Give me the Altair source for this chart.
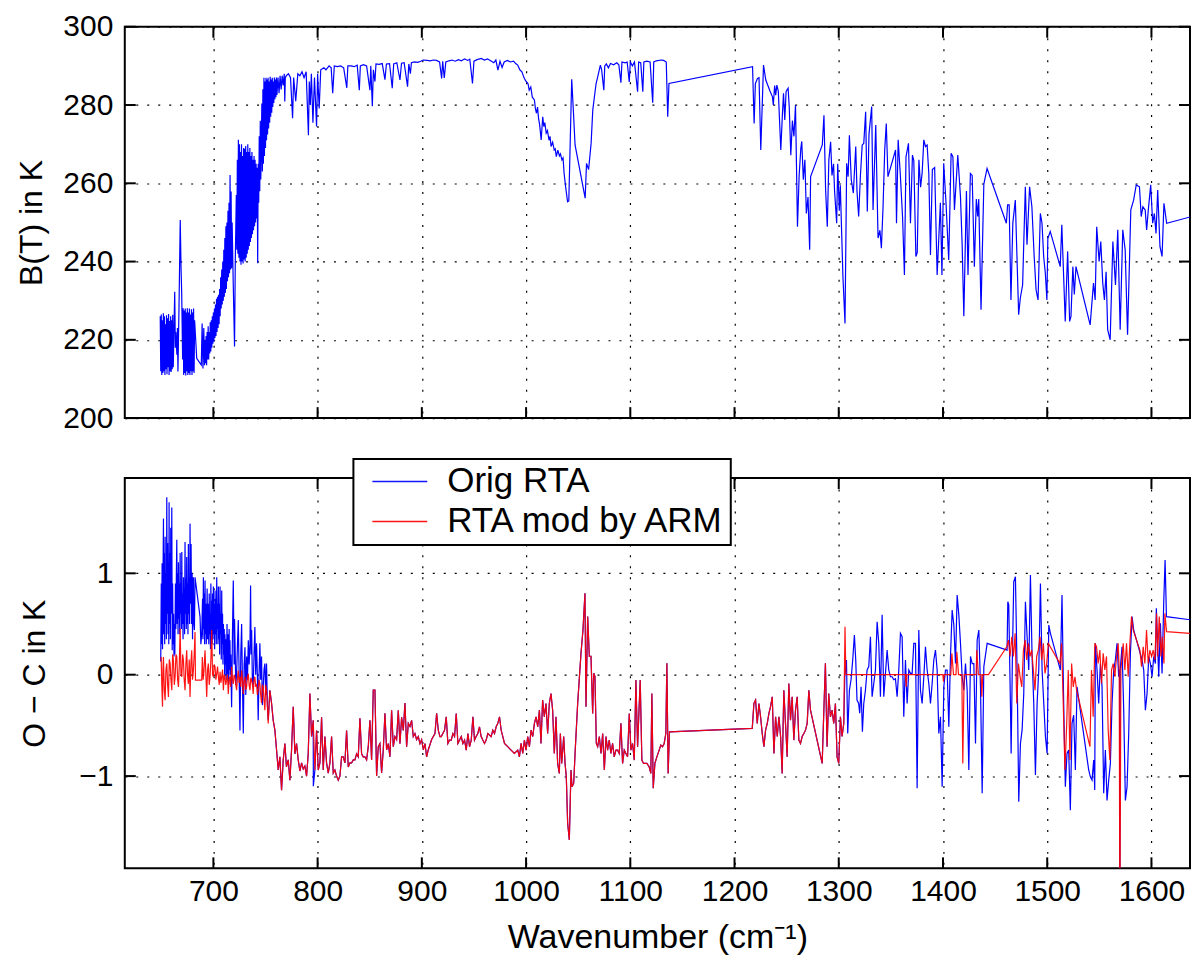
import altair as alt
import pandas as pd

FONT = "Liberation Sans"
W = 1067
H1 = 392
H2 = 391
XDOM = [615, 1637]
TICK_LEN = 11

x_ticks = [700, 800, 900, 1000, 1100, 1200, 1300, 1400, 1500, 1600]
top_y_ticks = [200, 220, 240, 260, 280, 300]
bot_y_ticks = [-1, 0, 1]
series_names = ["Orig RTA", "RTA mod by ARM"]
series_colors = ["#0000ff", "#ff0000"]

# ---- top panel: brightness temperature (wavenumber, K) ----
top_a = [
(649.0,226.0),(649.5,212.0),(650.0,226.5),(650.5,211.0),(651.0,225.0),(651.5,211.5),(652.0,226.8),(652.5,212.0),(653.0,226.0),(653.5,211.0),(654.0,224.0),(654.5,212.5),(655.0,226.3),(655.5,211.2),(656.0,225.5),(656.5,213.0),(657.0,226.6),(657.5,211.0),(658.0,224.8),(658.5,212.0),(659.0,226.0),(659.5,211.8),(660.0,225.0),(660.5,212.5),(661.0,226.4),(661.5,213.0),
(662.9,232.3),(663.5,218.0),(664.0,222.0),(665.0,216.2),(665.5,223.0),(666.0,211.9),(667.0,228.0),(668.2,250.6),(669.0,238.0),(669.6,231.9),(670.5,215.0),
(671.0,228.1),(671.5,211.0),(672.0,227.5),(672.5,211.5),(673.0,228.0),(673.5,210.9),(674.0,227.0),(674.5,212.0),(675.0,228.1),(675.5,211.0),(676.0,227.0),(676.5,211.5),(677.0,228.0),(677.5,211.0),(678.0,226.5),(678.5,212.0),(679.0,227.8),(679.5,211.0),(680.0,227.0),(680.5,212.0),(681.0,228.0),(681.5,211.5),(682.0,225.0),
(684.0,215.3),(686.0,214.5),(688.4,213.6),(689.2,224.2),(690.0,212.7),(690.8,223.0),(691.5,213.5),(692.0,220.0),(692.5,214.0),(693.0,221.0),(693.5,213.5),(694.0,222.0),(694.5,215.0),(695.0,223.5),(695.5,215.0),(696.0,222.0),(696.5,216.5),(697.0,224.5),(697.5,217.0),(698.0,225.0),(698.5,218.0),(699.0,226.0),(699.5,219.0),(700.0,227.0),(700.5,219.5),(701.0,228.0),(701.5,220.5),(702.0,229.0),(702.5,221.0),(703.0,230.5),(703.5,222.0),(704.0,231.0),(704.5,223.0),(705.0,231.5),(705.5,224.0),(706.0,233.0),(706.5,226.0),(707.0,236.0),(707.5,228.0),(708.0,238.0),(708.5,229.0),(709.0,240.0),(709.5,230.0),(710.0,243.0),(710.5,231.0),(711.0,246.0),(711.5,232.0),(712.0,249.0),(712.5,233.0),(713.0,250.0),(713.5,235.0),(714.0,253.0),(714.5,236.0),(715.0,255.0),(715.5,237.0),(716.0,262.1),(716.5,238.0),(717.0,257.9),(717.5,238.3),(718.0,250.0),(719.0,235.0),(720.3,218.3),(721.0,240.0),(722.0,257.0),(722.5,243.0),(723.0,266.0),(723.5,242.0),(724.0,271.1),(724.5,241.0),(725.0,270.0),(725.5,240.0),(726.0,268.0),(726.5,239.2),(727.0,270.0),(727.5,240.0),(728.0,267.0),(728.5,239.5),(729.0,269.0),(729.5,240.5),(730.0,268.8),(730.5,240.0),(731.0,269.5),(731.5,241.0),(732.0,268.0),(732.5,242.0),(733.0,270.0),(733.5,243.0),(734.0,268.0),(734.5,244.0),(735.0,269.0),(735.5,245.0),(736.0,267.0),(736.5,246.0),(737.0,268.0),(737.5,247.0),(738.0,266.0),(738.5,248.0),(739.0,267.0),(739.5,249.0),(740.0,266.0),(740.5,250.0),(741.0,265.0),(741.5,251.0),(742.0,264.0),(742.5,239.6),(743.0,265.0),(743.5,255.0),(744.0,272.0),(744.5,258.0),(745.0,276.0),(745.5,261.0),(746.5,280.4),(747.0,263.0),(747.5,284.0),(748.0,265.0),(748.5,287.0),(749.0,267.0),(749.5,286.0),(750.0,269.0),(750.5,287.0),(751.0,271.0),(751.5,286.5),(752.0,272.5),(752.5,287.0),(753.0,274.0),(753.5,286.0),(754.0,275.5),(754.5,287.2),(755.0,277.0),(755.5,286.5),(756.0,278.0),(756.5,287.0),(757.0,279.5),(757.5,286.0),(758.0,280.5),(758.5,287.0),(759.0,281.5),(759.5,286.5),(760.0,282.0),(760.5,287.0),(761.0,282.6),(762.0,287.0),(763.0,283.0),(764.0,287.5),(765.0,284.0),(766.0,287.5),(767.0,285.0),(768.0,288.0),(768.5,280.9),(769.0,287.0),
]
top_b = [
(770,287.5),(772,288),(774,287),(776,276.6),(777,287),(779,281),(781,288),(783,287.5),(785,288.5),(787,287),(789,288.5),(791.2,272.3),(792,286),(793,280),(794,288),(795.5,275.5),(797,287),(799,274.5),(800,288),(801.5,279.1),(803,289),(806,289.5),(808,289),(811,290),(813,289.5),(814.5,283),(816,290),(819,289.8),(822,290),(825,289.5),(828,284.4),(829,290),(832,290),(835,289.8),(838,290.2),(840,283.8),(841,290),(844,290.3),(847,290),(850.2,283.8),(851,290),(852.5,279.7),(853.5,289),(855,286),(856,290.5),(859,290.4),(862,290.6),(864.6,286.5),(866,290.5),(869,290.6),(871.6,284.3),(873,290.5),(876,290.8),(879,286.4),(880.5,290.7),(883,290.8),(886.3,284.7),(887.5,290.5),(889,288),(890,290.8),(893,291),(896,290.9),(899,291.2),(901.3,291.5),(905,291.4),(908,291.3),(911,291.5),(914,291.4),(917,291),(919,286.8),(920,291.2),(921.5,286.9),(923,291),(926,291.3),(929,291.5),(932,291.2),(935,291.6),(938,291.3),(941,291.8),(944,291.4),(946,291.7),(948.6,285.5),(950,291.2),(953,291.6),(957,291.9),(960,291.5),(963,291.8),(966,291.3),(969,290.8),(971,291.5),(973,288.9),(975,291.2),(977,289.6),(979,291),(982,291.4),(985,291),(988,291.2),(990,290.6),(992,290.2),(994,289),(996,288.5),(998,287),(999.5,286.2),(1001.8,285.5),(1003,283.8),(1004.5,284.6),(1006,282),(1008,281.3),(1009,279),(1010,277.9),(1011,279.5),(1012,276.5),(1013,275),(1014.5,271.1),(1016,277),(1017,274.5),(1018,275.5),(1019.3,272.8),(1020.5,273.5),(1022,271),(1023,272),(1024,269.4),(1025.5,270.5),(1027,268.5),(1028,268.8),(1029,266.8),(1030.5,268.5),(1032,267),(1033,267.5),(1034.4,266),(1035.5,266.5),(1036.5,262.5),(1038,259),(1039.8,255.3),(1041,255.5),(1043.8,286.6),(1045.5,277.9),(1047,269.8),(1056.7,256.2),(1058,265.1),(1060,263.5),(1062.4,270.2),(1064,278.7),(1066,283),(1067.2,285.5),(1069,287.5),(1071.3,290.2),(1072.5,289),(1074.6,283.8),(1075.5,290),(1077,290.5),(1079,289.5),(1081,290.6),(1084,290.3),(1087,290.8),(1089,290.3),(1091,285.7),(1092,291),(1095,290.8),(1097,291),(1099,285.9),(1100,291),(1102,290),(1104,291),(1107,283.4),(1108,291),(1110,290.8),(1112,283.4),(1113,291),(1116,291.2),(1119,291),(1121.5,280.6),(1122.5,291),(1125,291.3),(1129.5,291.5),(1132,291.4),(1134.5,291),(1135.9,277),(1137.1,285.5),
]
top_c = [
(1217.3,289.8),(1218.8,275.3),(1220,285.5),(1222,286.8),(1223.5,287),(1225.2,268.5),(1227.8,290.2),(1230,286.4),(1232,285),(1234,283.6),(1236.4,282.1),(1237.2,280),(1238.5,285),(1239.5,282.5),(1240.6,285.1),(1242,283.5),(1244.4,268.5),(1246,278),(1247,283),(1248.2,276.2),(1249.5,283.5),(1251.4,284.3),(1252.5,279.5),(1254,267.2),(1255.5,276),(1257,272),(1258.5,280),(1260.4,248.9),(1262,262),(1263.6,268.9),(1264.5,270.7),(1266,260.9),(1267.5,266),(1268.9,252.3),(1270.5,256.5),(1272.1,243),(1273,261.7),(1284.2,269.8),(1285.8,277.4),(1287.4,258.3),(1289,248.9),(1290.5,266),(1292.2,270.6),(1293.5,262),(1295,265),(1296,258),(1298,249.8),(1299,265),(1300.5,253),(1301.5,259.5),(1302.8,247.2),(1304,236.2),(1306,224.2),(1307.6,265.1),(1309,261.7),(1310.2,272.3),(1312,260.9),(1314,257.5),(1316.3,269.4),(1317.5,258),(1319.1,251.5),(1320.8,262),(1322.5,269.8),(1324,270.2),(1325.8,278.3),(1327.4,252.8),(1329,272.5),(1331.6,279.6),(1332.9,253.2),(1335.5,274.9),(1337.7,246),(1339.5,248),(1340.9,243.4),(1342.5,254),(1344.1,268.5),(1345.6,275.3),(1347.2,261.7),(1354.5,268.5),(1355.4,249.8),(1357,271.1),(1359,262.5),(1361.2,251.5),(1363,236.6),(1364.5,266.7),(1366.9,270.2),(1368.8,249.8),(1370.7,267.2),(1372,265.8),(1374,241.3),(1375.3,242.3),(1376.9,266),(1378.5,259),(1380,262.6),(1381.6,271.1),(1383.2,269.4),(1384.8,269.8),(1386.4,262.5),(1388,241.7),(1389.8,263.5),(1392,264),(1394.4,236.6),(1397.5,255),(1399,236.6),(1400.7,265.1),(1403,254.5),(1405.5,240.4),(1407.8,267.7),(1409.5,266.8),(1411,253.2),(1414.2,267.2),(1416.8,256.5),(1418.4,244.3),(1420,226),(1422.5,258),(1424,236.6),(1426.3,262.5),(1428,262),(1430.1,238.7),(1432,256),(1433.3,251.5),(1434.3,256),(1436.5,227.7),(1439.2,259.8),(1442.3,263.8),(1460.8,249.8),(1462,254.5),(1463.5,254.5),(1465.2,230.2),(1467,249.8),(1469.4,255.7),(1472.6,226.4),(1474.2,230.7),(1476.4,234),(1479,259.1),(1480.6,244.3),(1483.1,259.1),(1485.3,254),(1487.5,241.3),(1489.3,232.8),(1491.2,230.2),(1493.4,252.3),(1495,249.8),(1496.6,241.3),(1498.2,237),(1499.7,230.2),(1500.6,245.9),(1502.9,247.7),(1512.5,238.7),(1514,249.4),(1517.3,224.7),(1519.6,242.6),(1521.5,224.7),(1522.8,226),(1524.6,238.7),(1526,231.6),(1527.6,238.7),(1541.2,223.8),(1544.4,234.5),(1546,230.2),(1547.5,248.9),(1549.8,240),(1551.4,245.1),(1553.3,234.5),(1554.9,230.2),(1556.5,237.4),(1558,222.6),(1560.4,220),(1563,245.1),(1565.5,234),(1567.7,248.1),(1570,222.6),(1572.5,248.1),(1574.8,243),(1577.1,221.3),(1580.2,253.2),(1582.9,255.7),(1585.4,259.6),(1588.5,259.1),(1590.2,251.5),(1591.8,254),(1594,253.2),(1595.4,248.1),(1597,253.2),(1599.3,259.6),(1601.2,249.8),(1602.8,252.3),(1604.4,247.2),(1606,258.3),(1608.2,243.8),(1610.2,241.3),(1612,254.9),(1614.6,249.8),(1640,251.6),
]

# ---- bottom panel: observed minus calculated (wavenumber, K) ----
blue_a = [
(649.5,0.13),(650.0,0.9),(650.4,0.3),(650.8,1.1),(651.2,0.25),(651.6,0.85),(652.1,1.54),(652.5,0.4),(652.9,1.2),(653.3,0.3),(653.7,1.36),(654.1,0.5),(654.5,1.0),(654.9,0.35),(655.3,1.75),(655.7,0.6),(656.1,1.3),(656.5,0.4),(656.9,1.1),(657.2,0.3),(657.5,1.7),(657.9,0.5),(658.3,1.2),(658.7,0.35),(659.1,1.45),(659.5,0.6),(659.8,1.0),(660.1,1.65),(660.5,0.24),(660.9,0.9),(661.3,0.3),(661.8,0.6),(662.2,0.18),(662.6,0.5),(663.0,0.2),
(663.6,0.9),(664.0,0.45),(664.5,1.0),(664.9,1.33),(665.3,0.5),(665.7,1.0),(666.1,0.4),(666.5,1.11),(666.9,0.55),(667.3,0.9),(667.7,0.4),(668.1,1.2),(668.5,0.6),(668.9,0.9),(669.3,0.45),(669.7,1.21),(670.1,0.5),(670.5,0.8),(670.9,0.35),(671.3,0.96),(671.7,0.5),(672.1,0.85),(672.4,0.4),(672.8,1.31),(673.2,0.6),(673.6,0.95),(674.0,0.45),(674.4,1.16),(674.8,0.5),(675.2,0.9),(675.6,0.4),(676.0,1.29),(676.4,0.6),(676.8,0.95),(677.2,0.5),(677.6,1.49),(678.1,0.7),(678.6,1.29),(679.1,0.5),(679.6,1.0),(680.0,0.35),(680.4,0.8),(680.8,0.96),(681.3,0.5),(681.8,0.44),(682.4,0.96),(687.2,0.57),
(688.0,0.3),(688.8,0.4),(689.6,0.75),(690.0,0.35),(690.4,0.96),(690.8,0.45),(691.2,0.8),(691.6,0.3),(692.0,0.93),(692.4,0.4),(692.8,0.7),(693.2,0.3),(693.6,0.5),(694.0,0.85),(694.4,0.35),(694.8,0.6),(695.2,0.7),(695.6,0.3),(696.0,0.8),(696.4,0.4),(696.8,0.6),(697.2,0.25),(697.6,0.9),(698.0,0.4),(698.4,0.73),(698.8,0.3),(699.2,0.8),(699.6,0.35),(700.0,0.87),(700.4,0.4),(700.8,0.7),(701.2,0.25),(701.6,0.83),(702.0,0.4),(702.4,0.75),(702.8,0.3),(703.2,0.96),(703.6,0.45),(704.0,0.7),(704.4,0.3),(704.8,0.87),(705.2,0.35),(705.6,0.7),(706.0,0.2),(706.4,0.87),(706.8,0.4),(707.2,0.6),(707.6,0.15),(708.0,0.83),(708.4,0.3),(708.8,0.6),(709.2,0.1),(709.6,0.5),(710.0,0.2),(710.4,0.45),(710.8,0.0),(711.1,0.4),(711.5,0.1),(711.9,0.35),(712.3,-0.05),(712.7,0.21),(713.1,0.5),(713.5,0.0),(713.9,0.3),(714.3,0.4),(714.7,-0.1),(715.1,0.45),(715.5,0.05),(715.9,0.34),(716.3,0.0),(716.7,0.2),(717.1,-0.1),(717.5,-0.32),(718.3,0.4),(719.1,0.93),(719.9,0.1),(720.3,0.55),(720.7,0.34),(721.5,-0.1),(722.3,0.01),(723.1,0.3),(723.9,0.54),(724.7,0.0),(725.5,-0.55),(726.3,0.2),(727.1,0.5),(727.9,-0.1),(728.7,-0.58),(729.5,0.1),(730.3,0.27),(731.1,-0.2),(731.9,0.18),(732.7,-0.05),(733.5,0.34),(734.3,0.1),(735.1,0.3),(735.7,0.88),(736.2,0.2),(736.7,0.44),(737.4,-0.05),(738.2,-0.12),(739.0,0.2),(739.8,0.47),(740.6,0.0),(741.4,0.31),(742.2,0.0),(743.0,-0.45),(743.8,0.0),(744.6,0.31),(745.4,-0.05),(746.2,0.18),(747.0,-0.3),(747.8,-0.12),(748.6,0.05),(749.4,0.11),(750.2,-0.2),(751.0,0.11),(751.8,-0.3),(752.6,-0.45),
]
red_a = [
(649.9,0.175),(650.5,-0.1),(651.2,-0.317),(651.6,0.05),(652.1,0.175),(652.9,-0.15),(653.7,-0.252),(654.5,0.05),(655.3,0.11),(656.1,-0.1),(656.9,-0.22),(657.7,0.15),(658.5,0.11),(659.3,-0.05),(660.1,-0.153),(660.9,0.2),(661.7,0.14),(662.5,-0.1),(663.3,-0.02),(664.1,0.2),(664.9,0.175),(665.7,-0.05),(666.5,-0.12),(667.3,0.1),(668.1,0.455),(668.9,0.0),(669.7,-0.02),(670.5,0.2),(671.3,0.14),(672.0,-0.05),(672.8,-0.153),(673.6,0.1),(674.4,0.24),(675.2,0.0),(676.0,-0.09),(676.8,0.15),(677.6,-0.22),(678.4,0.1),(679.2,0.24),(680.0,-0.05),(680.8,0.04),(681.6,0.2),(682.4,0.42),(682.8,-0.054),(688.8,-0.054),(689.4,0.175),(690.2,-0.05),(691.0,0.04),(691.5,0.15),(692.0,0.24),(692.8,0.0),(693.6,-0.22),(694.4,0.05),(695.2,0.11),(696.0,-0.1),(696.8,-0.02),(697.6,0.15),(698.4,0.44),(699.2,0.0),(700.0,-0.02),(700.8,0.1),(701.6,0.077),(702.4,-0.05),(703.2,0.01),(704.0,0.08),(704.8,-0.02),(705.6,-0.1),(706.4,0.028),(707.2,-0.08),(708.0,-0.02),(708.8,0.05),(709.6,-0.153),(710.4,0.0),(711.1,-0.02),(711.9,-0.1),(712.7,-0.054),(713.5,0.0),(714.3,-0.19),(715.1,-0.05),(715.9,-0.02),(716.7,-0.12),(717.5,0.077),(718.3,-0.05),(719.1,-0.09),(719.9,0.0),(720.7,-0.02),(721.5,-0.1),(722.3,-0.153),(723.1,-0.03),(723.9,0.04),(724.7,-0.08),(725.5,-0.02),(726.3,-0.12),(727.1,0.04),(727.9,-0.05),(728.7,-0.19),(729.5,-0.06),(730.3,-0.02),(731.1,-0.15),(731.9,-0.12),(732.7,-0.02),(733.5,0.01),(734.3,-0.1),(735.1,-0.153),(735.9,-0.03),(736.7,-0.054),(737.5,-0.1),(738.2,-0.19),(739.0,-0.05),(739.8,-0.02),(740.6,-0.12),(741.4,-0.09),(742.2,-0.2),(743.0,-0.153),(743.8,-0.05),(744.6,-0.09),(745.4,-0.2),(746.2,-0.28),(747.0,-0.1),(747.8,-0.12),(748.6,-0.25),(749.4,-0.35),(750.2,-0.1),(751.0,-0.153),(751.8,-0.3),(752.6,-0.48),
]
shared_mid = [
(754.2,-0.153),(755.8,-0.28),(757.4,-0.45),(759.0,-0.547),(760.6,-0.74),(762.2,-0.94),(763.8,-0.81),(765.4,-1.14),(767.0,-0.84),(768.6,-0.68),(770.1,-0.91),(771.8,-0.84),(773.4,-1.04),(775.0,-0.74),(776.6,-0.317),(778.2,-0.78),(779.8,-0.68),(781.4,-0.84),(783.0,-0.95),(784.6,-0.87),(786.2,-0.93),(787.8,-0.9),(789.4,-1.0),(791.0,-0.78),(792.6,-0.186),(794.2,-0.61),(795.8,-0.45),(797.4,-0.94),(799.0,-0.55),(800.6,-0.94),(802.2,-0.87),(803.8,-0.42),(805.4,-0.94),(807.0,-0.61),(808.6,-0.87),(810.2,-0.97),(811.8,-0.87),(813.4,-0.61),(815.0,-0.97),(816.6,-0.94),(818.2,-1.0),(819.8,-1.04),(821.4,-1.0),(823.0,-0.81),(824.6,-0.81),(826.2,-0.87),(827.8,-0.55),(829.4,-0.91),(831.0,-0.87),(832.6,-0.87),(834.2,-0.84),(835.8,-0.84),(837.4,-0.78),(839.0,-0.81),(840.6,-0.43),(842.2,-0.78),(843.8,-0.81),(845.4,-0.81),(847.0,-0.84),(848.6,-0.71),(850.2,-0.45),(851.8,-0.84),(853.4,-0.153),(855.0,-0.153),(856.6,-1.0),(858.2,-0.71),(859.8,-0.68),(861.4,-0.97),(863.0,-0.74),(864.6,-0.38),(866.2,-0.74),(867.8,-0.68),(869.4,-0.81),(871.0,-0.35),(872.6,-0.71),(874.2,-0.61),(875.8,-0.64),(877.4,-0.35),(879.0,-0.68),(880.6,-0.42),(882.2,-0.55),(883.8,-0.28),(885.4,-0.71),(887.0,-0.48),(888.6,-0.51),(890.2,-0.45),(891.8,-0.61),(893.4,-0.58),(895.0,-0.64),(896.6,-0.61),(898.2,-0.68),(899.8,-0.64),(901.4,-0.74),(903.0,-0.68),(904.6,-0.81),(906.2,-0.74),(909.4,-0.64),(912.6,-0.58),(914.2,-0.38),(915.8,-0.55),(917.4,-0.61),
(918.6,-0.61),(921.8,-0.547),(923.4,-0.415),(925.0,-0.678),(926.6,-0.645),(928.2,-0.645),(929.8,-0.58),(931.4,-0.61),(933.0,-0.382),(934.6,-0.678),(936.2,-0.645),(937.8,-0.61),(939.4,-0.678),(941.0,-0.645),(942.6,-0.744),(944.2,-0.58),(945.8,-0.71),(947.4,-0.645),(949.0,-0.415),(950.5,-0.645),(952.1,-0.61),(953.7,-0.58),(955.3,-0.514),(956.9,-0.61),(958.5,-0.645),(960.1,-0.678),(961.7,-0.645),(963.3,-0.58),(966.5,-0.61),(968.1,-0.547),(969.7,-0.58),(971.3,-0.514),(972.9,-0.48),(974.5,-0.415),(976.1,-0.547),(977.7,-0.61),(979.3,-0.678),(982.4,-0.71),(985.6,-0.744),(988.8,-0.777),(992.0,-0.744),(993.6,-0.81),(995.2,-0.678),(996.8,-0.777),(998.4,-0.645),(1000.0,-0.744),(1001.6,-0.61),(1003.2,-0.71),(1004.8,-0.547),(1006.4,-0.61),(1008.0,-0.48),(1009.6,-0.415),(1011.2,-0.514),(1012.8,-0.35),(1014.3,-0.678),(1015.9,-0.25),(1017.5,-0.415),(1019.1,-0.284),(1020.7,-0.58),(1022.3,-0.284),(1023.9,-0.186),(1025.5,-0.35),(1027.1,-0.777),(1028.7,-0.415),(1030.3,-0.875),(1031.9,-0.974),(1032.9,-0.58),(1034.2,-0.875),(1036.1,-0.61),(1037.4,-0.875),(1038.6,-1.007),(1039.9,-1.466),(1041.5,-1.63),(1043.1,-0.94),(1044.1,-1.105),(1045.7,-1.07),(1047.0,-0.777),(1049.5,-0.284),(1052.7,0.212),(1054.6,0.442),(1056.5,0.803),(1057.5,-0.317),(1059.1,0.573),(1060.7,0.18),(1062.3,0.18),(1063.9,-0.382),(1064.9,0.015),(1066.1,-0.02),(1067.4,-0.678),(1068.7,-0.71),(1070.3,-0.61),(1071.9,-0.777),(1073.5,-0.58),(1075.1,-0.94),(1076.7,-0.61),(1078.2,-0.744),(1079.8,-0.645),(1081.4,-0.777),(1083.0,-0.678),(1084.6,-0.81),(1086.2,-0.744),(1087.8,-0.744),(1089.4,-0.777),(1091.0,-0.48),(1092.6,-0.875),(1094.2,-0.744),(1095.8,-0.777),(1097.4,-0.81),(1099.0,-0.382),(1100.6,-0.744),(1102.2,-0.678),(1103.8,-0.842),(1105.4,-0.053),(1107.0,-0.71),(1109.5,-0.053),(1111.1,-0.842),(1112.7,-0.875),(1114.0,-0.875),(1115.9,-0.875),(1118.1,-0.908),(1119.7,-0.974),(1120.7,-0.186),(1122.0,-1.12),(1123.6,-0.875),(1125.5,-0.81),(1127.7,-0.744),(1129.3,-0.695),(1130.9,-0.71),(1132.5,-0.678),(1134.1,-0.58),(1135.1,0.113),(1136.3,-0.974),(1137.6,-0.563),
(1217.0,-0.53),(1218.6,-0.284),(1220.2,-0.25),(1221.8,-0.48),(1223.4,-0.284),(1225.0,-0.415),(1226.6,-0.58),(1228.2,-0.71),(1229.8,-0.547),(1231.4,-0.48),(1233.0,-0.382),(1234.5,-0.317),(1236.2,-0.218),(1237.8,-0.777),(1239.4,-0.415),(1241.0,-0.61),(1242.6,-0.415),(1244.2,-0.61),(1245.7,-0.974),(1247.3,-0.153),(1248.9,-0.48),(1250.5,-0.81),(1252.1,-0.087),(1253.7,-0.448),(1255.3,-0.218),(1256.9,-0.645),(1258.5,-0.35),(1260.1,-0.218),(1261.7,-0.645),(1263.3,-0.678),(1264.9,-0.61),(1266.5,-0.58),(1268.1,-0.547),(1269.7,-0.48),(1271.3,-0.153),(1272.9,-0.35),(1284.1,-0.875),(1285.7,-0.35),(1287.2,0.113),(1288.8,-0.71),(1290.4,-0.186),(1292.0,-0.415),(1293.6,-0.35),(1295.2,-0.48),(1296.8,-0.284),(1298.4,-0.81),(1300.0,-0.875),(1301.6,-0.415),(1303.2,-0.61),(1304.8,-0.48),
]
blue_extra = [(795.9,-1.1)]
blue_c = [
(1305.8,-0.02),(1307.4,0.145),(1308.6,-0.58),(1310.2,-0.153),(1311.8,-0.05),(1313.4,0.145),(1315.0,0.392),(1316.3,0.145),(1317.5,-0.25),(1319.1,-0.284),(1320.1,-0.38),(1321.4,-0.12),(1322.7,-0.563),(1324.0,-0.284),(1325.6,-0.153),(1327.2,0.046),(1328.8,0.08),(1330.4,0.375),(1332.0,-0.218),(1333.6,-0.087),(1335.2,0.046),(1336.8,0.523),(1338.4,0.309),(1340.0,-0.218),(1341.6,0.59),(1343.2,-0.218),(1344.8,0.013),(1346.4,0.243),(1348.0,0.046),(1349.6,-0.02),(1351.2,-0.02),(1352.8,-0.05),(1354.4,-0.04),(1356.0,-0.218),(1357.6,0.046),(1359.2,0.408),(1360.8,0.375),(1362.4,-0.415),(1364.0,0.145),(1365.6,-0.284),(1367.2,0.046),(1368.8,0.013),(1370.4,0.013),(1372.0,0.309),(1373.6,0.309),(1375.2,-1.12),(1376.8,0.44),(1378.4,-0.153),(1380.0,-0.284),(1381.6,-0.02),(1383.2,0.276),(1384.8,0.046),(1386.4,-0.087),(1388.0,-0.284),(1389.6,-0.087),(1391.2,0.145),(1392.8,0.243),(1394.4,0.046),(1396.0,-0.58),(1397.6,-0.415),(1399.2,-1.105),(1400.8,-0.12),(1402.4,0.046),(1404.0,0.046),(1405.6,-0.514),(1407.2,0.18),(1408.8,0.638),(1410.4,0.49),(1412.0,0.11),(1413.6,0.786),(1415.2,0.59),(1416.8,0.309),(1418.4,-0.02),(1420.0,-0.153),(1421.6,0.11),(1423.2,-0.153),(1424.8,-0.94),(1426.4,0.18),(1428.0,0.11),(1429.6,0.11),(1431.2,-0.678),(1432.8,0.342),(1434.4,0.44),(1436.0,-0.12),(1437.6,-1.17),(1439.2,0.08),(1442.4,0.309),(1461.5,0.243),(1462.2,0.72),(1463.1,0.688),(1464.7,-0.284),(1465.4,-0.777),(1466.6,0.18),(1467.9,0.917),(1469.5,0.966),(1471.1,0.046),(1472.7,-1.253),(1474.3,-0.678),(1475.9,-0.547),(1477.5,-0.186),(1479.1,0.72),(1480.7,0.375),(1482.3,0.046),(1483.9,0.983),(1485.5,0.18),(1487.1,-0.284),(1488.7,-0.99),(1490.3,-0.284),(1491.9,0.046),(1493.5,0.9),(1495.1,0.046),(1496.7,-0.284),(1498.3,-0.61),(1499.9,-0.777),(1501.5,0.49),(1503.1,0.408),(1512.6,0.046),(1514.2,0.786),(1515.8,-0.284),(1517.4,-1.105),(1519.0,-0.777),(1520.6,-0.744),(1522.2,-1.336),(1523.8,-0.48),(1525.4,-0.399),(1527.0,-0.94),(1528.6,-0.12),(1539.8,-0.94),(1541.4,-1.007),(1543.0,-1.04),(1544.6,-0.842),(1545.6,-1.138),(1546.2,0.309),(1547.8,0.046),(1549.4,-0.284),(1551.0,0.11),(1552.6,-0.12),(1554.2,-1.17),(1555.8,-0.744),(1557.4,-1.24),(1559.0,-1.04),(1560.6,-0.875),(1562.2,-0.284),(1563.8,0.046),(1565.4,0.145),(1567.0,0.309),(1568.6,-0.02),(1569.4,0.046),(1569.7,-2.6),(1570.0,0.046),(1571.8,0.276),(1573.4,-0.35),(1575.0,-1.24),(1576.6,-1.105),(1578.2,-0.58),(1579.8,0.21),(1581.4,0.573),(1583.0,0.44),(1591.0,0.145),(1592.6,0.046),(1594.2,-0.35),(1595.8,-0.186),(1597.4,0.18),(1599.0,0.11),(1600.6,-0.02),(1602.2,0.18),(1603.8,0.11),(1604.7,0.655),(1607.0,-0.02),(1608.6,0.507),(1610.2,0.013),(1611.8,0.72),(1613.1,1.13),(1614.4,0.573),(1640.0,0.538),
]
red_c = [
(1306.0,0.473),(1306.8,0.0),(1364.0,0.0),(1364.7,-0.12),(1365.4,0.0),(1399.9,0.0),(1400.5,-0.07),(1401.2,0.0),(1407.5,0.0),(1408.5,0.21),(1410.1,0.0),(1412.5,0.0),(1413.3,0.227),(1414.9,0.0),(1418.1,0.0),(1419.0,-0.875),(1420.3,0.0),(1431.8,0.0),(1432.4,0.243),(1434.0,0.0),(1436.6,0.0),(1437.2,-0.218),(1438.2,0.0),(1443.6,0.0),(1461.2,0.276),(1462.8,0.342),(1464.4,0.18),(1466.0,0.375),(1467.6,0.18),(1469.2,0.408),(1470.8,-0.284),(1472.4,0.11),(1474.0,-0.02),(1475.6,-0.12),(1477.2,0.243),(1478.8,0.342),(1480.3,0.145),(1481.9,0.309),(1483.5,0.18),(1485.1,0.243),(1486.7,0.046),(1488.3,-0.153),(1489.9,0.18),(1491.5,0.243),(1493.1,0.375),(1494.7,0.145),(1496.3,0.309),(1497.9,0.013),(1499.5,0.11),(1501.1,0.309),(1512.2,0.11),(1513.8,0.309),(1515.4,-0.284),(1517.0,-0.94),(1518.6,-0.514),(1520.2,0.046),(1521.8,-0.842),(1523.4,0.11),(1525.0,-0.12),(1526.6,-0.02),(1528.2,-0.153),(1541.0,-0.71),(1542.5,0.046),(1544.1,-0.415),(1545.7,0.309),(1547.3,0.276),(1548.9,0.11),(1550.5,0.243),(1552.1,-0.087),(1553.7,0.21),(1555.3,0.046),(1556.9,0.18),(1558.5,-0.547),(1560.1,-0.842),(1561.7,0.046),(1563.3,0.11),(1564.9,-0.02),(1566.5,0.18),(1568.1,0.309),(1569.1,0.046),(1569.7,-2.6),(1570.7,0.046),(1572.9,0.309),(1574.5,0.046),(1576.1,0.309),(1577.7,-0.02),(1579.3,0.309),(1580.9,0.573),(1582.5,0.44),(1588.9,0.243),(1590.5,0.08),(1592.1,0.276),(1593.7,0.11),(1595.3,0.44),(1596.9,0.11),(1598.5,0.243),(1600.1,0.18),(1601.7,0.243),(1603.3,0.145),(1604.9,0.605),(1605.9,0.18),(1607.5,0.573),(1609.1,0.18),(1610.4,0.375),(1612.0,0.11),(1612.9,0.605),(1614.5,0.424),(1640.0,0.405),
]

top_df = pd.DataFrame(top_a + top_b + top_c, columns=["wn", "bt"])
blue_df = pd.DataFrame(blue_a + shared_mid + blue_extra + blue_c, columns=["wn", "oc"])
blue_df["series"] = series_names[0]
red_df = pd.DataFrame(red_a + shared_mid + red_c, columns=["wn", "oc"])
red_df["series"] = series_names[1]

xs = alt.Scale(domain=XDOM, nice=False, zero=False)
ys_top = alt.Scale(domain=[200, 300], nice=False, zero=False)
ys_bot = alt.Scale(domain=[-1.91, 1.94], nice=False, zero=False)


def inner_ticks(yfield, yscale, yvals, h):
    """MATLAB-style inward tick marks on all four sides of a panel."""
    xt = alt.Chart(pd.DataFrame({"wn": x_ticks}))
    yt = alt.Chart(pd.DataFrame({yfield: yvals}))
    rule = dict(color="black", strokeWidth=2)
    xe = alt.X("wn:Q", scale=xs, axis=None)
    ye = alt.Y(f"{yfield}:Q", scale=yscale, axis=None)
    return [
        xt.mark_rule(**rule).encode(x=xe, y=alt.value(h), y2=alt.value(h - TICK_LEN)),
        xt.mark_rule(**rule).encode(x=xe, y=alt.value(0), y2=alt.value(TICK_LEN)),
        yt.mark_rule(**rule).encode(y=ye, x=alt.value(0), x2=alt.value(TICK_LEN)),
        yt.mark_rule(**rule).encode(y=ye, x=alt.value(W), x2=alt.value(W - TICK_LEN)),
    ]


top_line = alt.Chart(top_df).mark_line(color=series_colors[0], strokeWidth=1.2, clip=True).encode(
    x=alt.X("wn:Q", scale=xs,
            axis=alt.Axis(orient="bottom", values=x_ticks, labels=False, ticks=False, tickSize=0,
                          domain=False, grid=True, title=None)),
    y=alt.Y("bt:Q", scale=ys_top,
            axis=alt.Axis(orient="left", values=top_y_ticks, ticks=False, tickSize=0, domain=False,
                          grid=True, labelPadding=12, title="B(T) in K", titleFontSize=32,
                          titleX=-93, titleY=H1 / 2, titleAlign="center", titleBaseline="middle")),
)

top = alt.layer(
    top_line, *inner_ticks("bt", ys_top, top_y_ticks, H1)
).resolve_axis(x="independent", y="independent").properties(width=W, height=H1)

color = alt.Color(
    "series:N",
    scale=alt.Scale(domain=series_names, range=series_colors),
    legend=alt.Legend(orient="none", legendX=229, legendY=433, title=None,
                      symbolType="M-3,0H3", symbolSize=336, symbolStrokeWidth=1.5,
                      symbolOffset=24, labelOffset=30, labelFontSize=35, labelFont=FONT,
                      labelColor="black", labelLimit=0, padding=5, rowPadding=4,
                      strokeColor="black", fillColor="white"),
)

blue_line = alt.Chart(blue_df).mark_line(strokeWidth=1.2, clip=True).encode(
    x=alt.X("wn:Q", scale=xs,
            axis=alt.Axis(orient="bottom", values=x_ticks, format="d", ticks=False, tickSize=0,
                          domain=False, grid=True, labelPadding=8,
                          title="Wavenumber (cm\u207b\u00b9)", titleFontSize=34, titlePadding=14)),
    y=alt.Y("oc:Q", scale=ys_bot,
            axis=alt.Axis(orient="left", values=bot_y_ticks, ticks=False, tickSize=0, domain=False,
                          grid=True, labelPadding=12, title="O \u2212 C in K", titleFontSize=32,
                          titleX=-90, titleY=H2 / 2, titleAlign="center", titleBaseline="middle")),
    color=color,
)
red_line = alt.Chart(red_df).mark_line(strokeWidth=1.2, opacity=0.92, clip=True).encode(
    x=alt.X("wn:Q", scale=xs, axis=None),
    y=alt.Y("oc:Q", scale=ys_bot, axis=None),
    color=color,
)

bottom = alt.layer(
    blue_line, red_line, *inner_ticks("oc", ys_bot, bot_y_ticks, H2)
).resolve_axis(x="independent", y="independent").properties(width=W, height=H2)

chart = alt.vconcat(top, bottom, spacing=60, bounds="flush").properties(
    padding={"left": 15, "top": 10, "right": 0, "bottom": 5},
    background="white",
).configure_view(stroke="black", strokeWidth=2).configure_axis(
    labelFont=FONT, titleFont=FONT, labelColor="black", titleColor="black",
    labelFontSize=30, titleFontSize=30, titleFontWeight="normal",
    gridColor="black", gridDash=[2, 9], gridWidth=1.2, gridOpacity=1,
).configure_legend(strokeWidth=2)

chart.save("out.html", embed_options={"renderer": "svg", "actions": False})
